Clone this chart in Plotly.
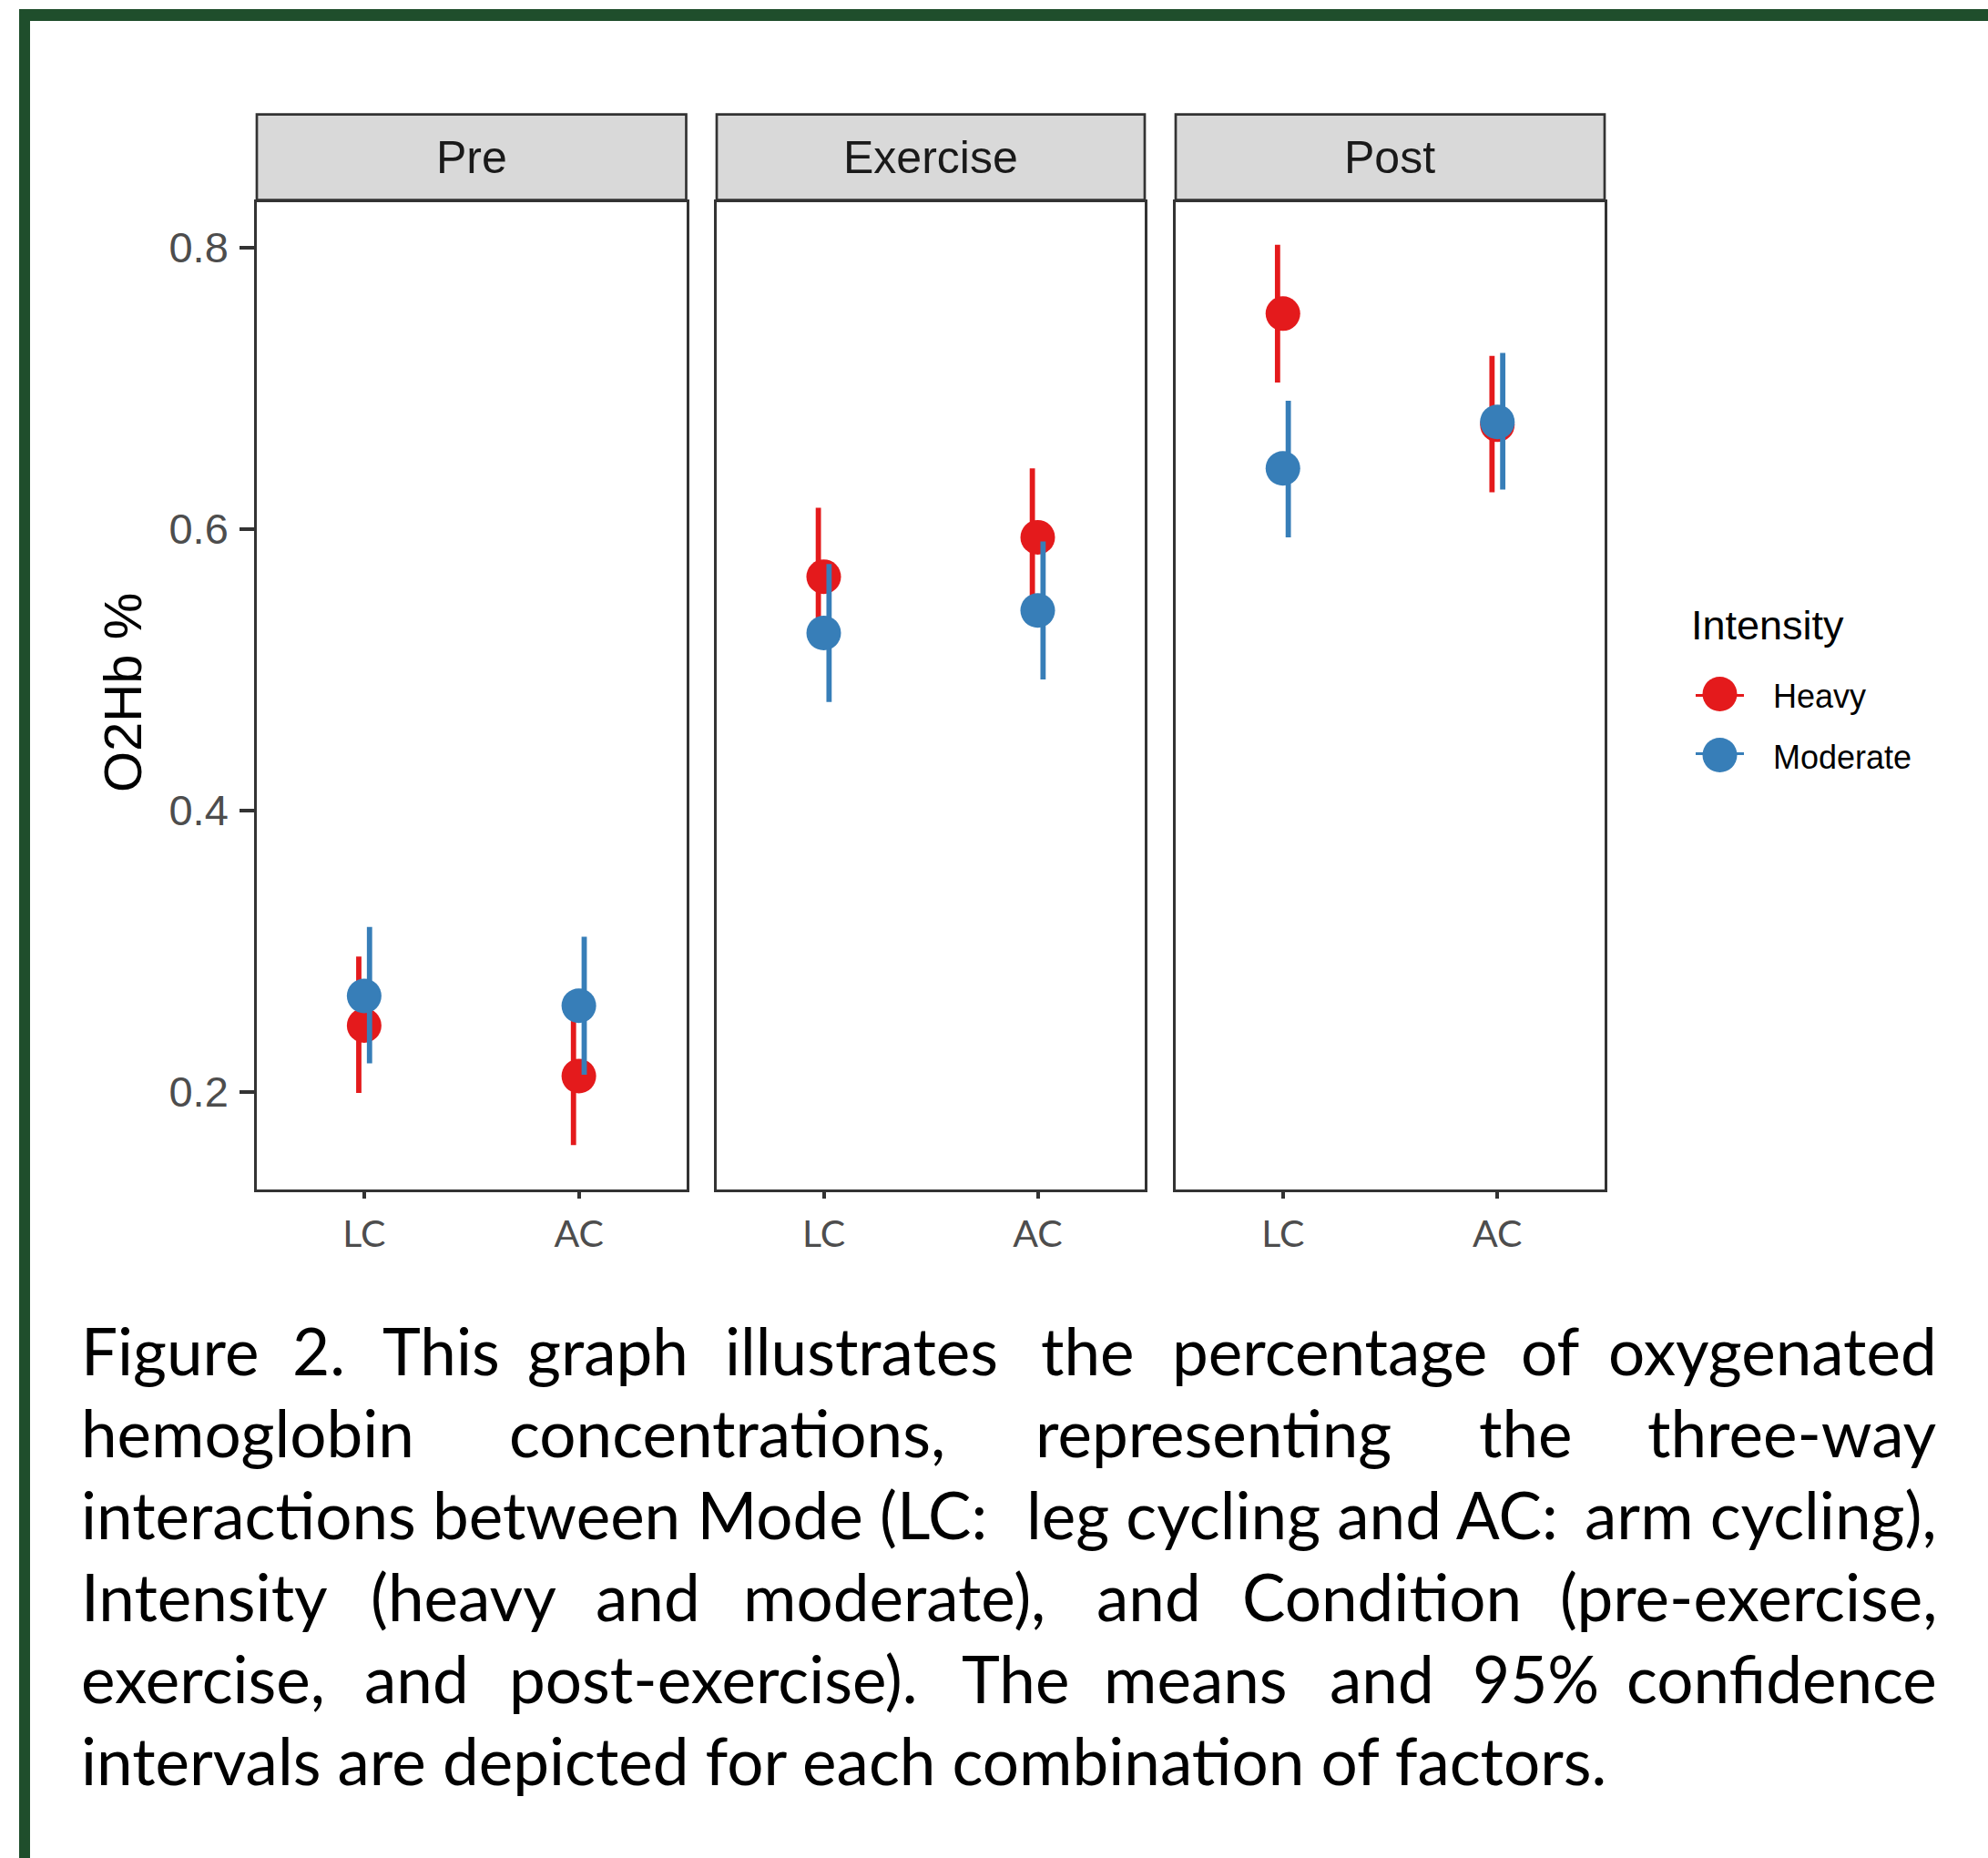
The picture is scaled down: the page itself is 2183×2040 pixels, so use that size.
import plotly.graph_objects as go

# ---------------- data ----------------
conditions = ["Pre", "Exercise", "Post"]
modes = ["LC", "AC"]
intensities = ["Heavy", "Moderate"]
colors = ["#E41A1C", "#377EB8"]

# values per condition (rows) and mode (columns: LC, AC)
heavy_mean = [[0.247, 0.211], [0.566, 0.594], [0.753, 0.674]]
heavy_lower = [[0.199, 0.162], [0.518, 0.545], [0.704, 0.626]]
heavy_upper = [[0.296, 0.260], [0.615, 0.643], [0.802, 0.723]]
moderate_mean = [[0.268, 0.261], [0.526, 0.542], [0.643, 0.676]]
moderate_lower = [[0.220, 0.212], [0.477, 0.493], [0.594, 0.628]]
moderate_upper = [[0.317, 0.310], [0.575, 0.591], [0.691, 0.725]]

y_tick_values = [0.2, 0.4, 0.6, 0.8]
y_title = "O2Hb %"
legend_title = "Intensity"

caption_lines = [
    ["Figure", "2.", "This", "graph", "illustrates", "the", "percentage", "of", "oxygenated"],
    ["hemoglobin", "concentrations,", "representing", "the", "three-way"],
    ["interactions between Mode (LC:", "leg cycling and AC:", "arm cycling),"],
    ["Intensity", "(heavy", "and", "moderate),", "and", "Condition", "(pre-exercise,"],
    ["exercise,", "and", "post-exercise).", "The", "means", "and", "95%", "confidence"],
    ["intervals are depicted for each combination of factors."],
]

# ---------------- layout geometry (pixels) ----------------
W, H = 2183, 2040


def px(x):
    return x / W


def py(y):
    return 1 - y / H


panel_x = [(282, 753.5), (787, 1257), (1291, 1762)]
panel_top, panel_bottom = 222, 1306
strip_top, strip_bottom = 125.7, 219.5
y_range = [0.1304, 0.8322]
x_range = [0.5, 2.5]
dodge = [-0.025, 0.025]

# caption word placement: (x, anchor); None = right aligned at caption_right
caption_right = 2129
caption_baselines = [1510, 1600, 1690, 1780, 1870, 1960]
caption_word_x = [
    [87, 319, 418, 577, 794, 1141, 1285, 1668, None],
    [87, 557, 1135, 1622, None],
    [87, ("c", 1419), None],
    [87, 405, 652, 814, 1202, 1362, None],
    [87, 398, 557, 1054, 1210, 1458, 1615, None],
    [87],
]
caption_font = dict(family="Lato", size=71, color="#000000")

series = [
    (heavy_mean, heavy_lower, heavy_upper),
    (moderate_mean, moderate_lower, moderate_upper),
]

fig = go.Figure()

for ci, cond in enumerate(conditions):
    xa = "x" if ci == 0 else f"x{ci + 1}"
    ya = "y" if ci == 0 else f"y{ci + 1}"
    xs = [i + 1 for i in range(len(modes))]
    for ii, name in enumerate(intensities):
        mean, lo, hi = series[ii]
        m = mean[ci]
        up = [h - v for h, v in zip(hi[ci], m)]
        dn = [v - l for v, l in zip(m, lo[ci])]
        fig.add_trace(go.Scatter(
            x=[x + dodge[ii] for x in xs], y=m, mode="markers",
            marker=dict(size=1, color="rgba(0,0,0,0)"),
            error_y=dict(type="data", symmetric=False, array=up, arrayminus=dn,
                         color=colors[ii], thickness=5.8, width=0),
            xaxis=xa, yaxis=ya, showlegend=False, hoverinfo="skip", cliponaxis=False,
        ))
        fig.add_trace(go.Scatter(
            x=xs, y=m, mode="markers", name=name,
            marker=dict(size=38, color=colors[ii], line=dict(width=0)),
            xaxis=xa, yaxis=ya, showlegend=False, cliponaxis=False,
        ))

# legend keys drawn on a hidden axis pair
for ii, name in enumerate(intensities):
    fig.add_trace(go.Scatter(
        x=[0, 1], y=[ii, ii], mode="lines", line=dict(color=colors[ii], width=6),
        xaxis="x4", yaxis="y4", showlegend=False, hoverinfo="skip", cliponaxis=False,
    ))
    fig.add_trace(go.Scatter(
        x=[0.5], y=[ii], mode="markers",
        marker=dict(size=38, color=colors[ii], line=dict(width=0)),
        xaxis="x4", yaxis="y4", showlegend=False, hoverinfo="skip", cliponaxis=False,
    ))

layout = dict(
    width=W, height=H, autosize=False,
    margin=dict(l=0, r=0, t=0, b=0, pad=0),
    paper_bgcolor="white", plot_bgcolor="white",
    showlegend=False,
)

axis_line = dict(showline=True, mirror=True, linecolor="#333333", linewidth=2.6,
                 showgrid=False, zeroline=False, fixedrange=True)

for ci in range(len(conditions)):
    xk = "xaxis" if ci == 0 else f"xaxis{ci + 1}"
    yk = "yaxis" if ci == 0 else f"yaxis{ci + 1}"
    ya = "y" if ci == 0 else f"y{ci + 1}"
    xa = "x" if ci == 0 else f"x{ci + 1}"
    layout[xk] = dict(
        axis_line, domain=[px(panel_x[ci][0]), px(panel_x[ci][1])], range=x_range,
        tickmode="array", tickvals=[i + 1 for i in range(len(modes))], ticktext=modes,
        ticks="outside", ticklen=7, tickwidth=3.5, tickcolor="#333333",
        tickfont=dict(family="Lato", size=41, color="#4d4d4d"),
        ticklabelstandoff=4, anchor=ya,
    )
    ydict = dict(
        axis_line, domain=[py(panel_bottom), py(panel_top)], range=y_range, anchor=xa,
        tickmode="array", tickvals=y_tick_values,
        ticktext=[f"{v:.1f}" for v in y_tick_values],
    )
    if ci == 0:
        ydict.update(ticks="outside", ticklen=16, tickwidth=3.5, tickcolor="#333333",
                     tickfont=dict(family="Liberation Sans", size=47, color="#4d4d4d"),
                     ticklabelstandoff=3, showticklabels=True)
    else:
        ydict.update(ticks="", showticklabels=False)
    layout[yk] = ydict

layout["xaxis4"] = dict(domain=[px(1862), px(1915)], range=[0, 1], visible=False,
                        fixedrange=True, anchor="y4")
layout["yaxis4"] = dict(domain=[py(829), py(762)], range=[1, 0], visible=False,
                        fixedrange=True, anchor="x4")

shapes = []
annotations = []

# frame (top and left dark green bars)
frame_color = "#1f4e2c"
shapes.append(dict(type="rect", xref="paper", yref="paper", x0=px(21), x1=1.0,
                   y0=py(23), y1=py(10), fillcolor=frame_color, line=dict(width=0)))
shapes.append(dict(type="rect", xref="paper", yref="paper", x0=px(21), x1=px(33),
                   y0=0, y1=py(10), fillcolor=frame_color, line=dict(width=0)))

# facet strips
for ci, cond in enumerate(conditions):
    x0, x1 = panel_x[ci]
    shapes.append(dict(type="rect", xref="paper", yref="paper",
                       x0=px(x0), x1=px(x1), y0=py(strip_bottom), y1=py(strip_top),
                       fillcolor="#d9d9d9", line=dict(color="#333333", width=2.7)))
    annotations.append(dict(xref="paper", yref="paper", x=px((x0 + x1) / 2),
                            y=py((strip_top + strip_bottom) / 2), text=cond,
                            showarrow=False, xanchor="center", yanchor="middle",
                            font=dict(family="Liberation Sans", size=50, color="#1a1a1a")))

# y axis title
annotations.append(dict(xref="paper", yref="paper", x=px(134), y=py(761), text=y_title,
                        textangle=-90, showarrow=False, xanchor="center", yanchor="middle",
                        font=dict(family="Liberation Sans", size=58, color="#000000")))

# legend title and labels
annotations.append(dict(xref="paper", yref="paper", x=px(1855), y=py(686), text=legend_title,
                        showarrow=False, xanchor="left", yanchor="middle",
                        font=dict(family="Liberation Sans", size=45, color="#000000")))
legend_label_y = [764, 831]
for ii, name in enumerate(intensities):
    annotations.append(dict(xref="paper", yref="paper", x=px(1945), y=py(legend_label_y[ii]),
                            text=name, showarrow=False, xanchor="left", yanchor="middle",
                            font=dict(family="Liberation Sans", size=36, color="#000000")))

# caption (justified lines built word by word)
for li, words in enumerate(caption_lines):
    ycen = caption_baselines[li] - 0.387 * caption_font["size"]
    for wi, word in enumerate(words):
        spec = caption_word_x[li][wi]
        if spec is None:
            xpos, anchor = caption_right, "right"
        elif isinstance(spec, tuple):
            xpos, anchor = spec[1], "center"
        else:
            xpos, anchor = spec, "left"
        annotations.append(dict(xref="paper", yref="paper", x=px(xpos), y=py(ycen),
                                text=word, showarrow=False, xanchor=anchor, yanchor="middle",
                                font=caption_font))

layout["shapes"] = shapes
layout["annotations"] = annotations
fig.update_layout(**layout)

fig.write_html("out.html", config={"displayModeBar": False},
               post_script="document.body.style.margin='0';")
